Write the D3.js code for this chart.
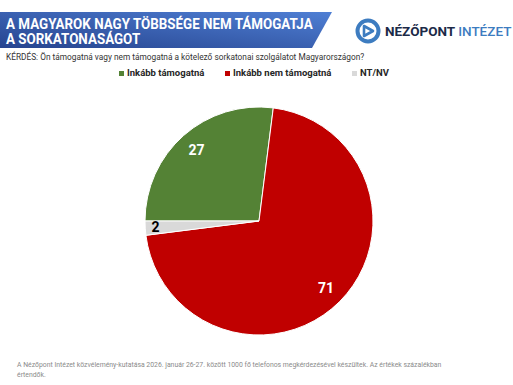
<!DOCTYPE html>
<html>
<head>
<meta charset="utf-8">
<script src="https://cdn.jsdelivr.net/npm/d3@7"></script>
<style>
  body { margin: 0; background: #fff; }
  svg { display: block; font-family: "Roboto", "Open Sans", sans-serif; }
</style>
</head>
<body>
<div id="chart"></div>
<script>
// Chart data
const categories = ["Inkább támogatná", "Inkább nem támogatná", "NT/NV"];
const values = [27, 71, 2];
const colors = ["#548235", "#C00000", "#D9D9D9"];
const labelColors = ["#ffffff", "#ffffff", "#000000"];

const titleLines = ["A MAGYAROK NAGY TÖBBSÉGE NEM TÁMOGATJA", "A SORKATONASÁGOT"];
const question = "KÉRDÉS: Ön támogatná vagy nem támogatná a kötelező sorkatonai szolgálatot Magyarországon?";
const footLines = [
  "A Nézőpont Intézet közvélemény-kutatása 2026. január 26-27. között 1000 fő telefonos megkérdezésével készültek. Az értékek százalékban",
  "értendők."
];

const width = 513, height = 385;

const svg = d3.select("#chart").append("svg")
    .attr("width", width)
    .attr("height", height);

//Gradient for the title banner
const defs = svg.append("defs");
const grad = defs.append("linearGradient")
    .attr("id", "bannerGrad")
    .attr("x1", "0%").attr("y1", "100%")
    .attr("x2", "100%").attr("y2", "0%");
grad.append("stop").attr("offset", "0%").attr("stop-color", "#26448f");
grad.append("stop").attr("offset", "100%").attr("stop-color", "#4f7fd4");

//Title banner (parallelogram shape on the right side)
svg.append("path")
    .attr("d", "M0,12 L332,12 L312,48 L0,48 Z")
    .attr("fill", "url(#bannerGrad)");

//Title text, squeezed horizontally so the first line fits the banner
const titleG = svg.append("g");
const titleTexts = titleG.selectAll("text")
    .data(titleLines)
    .enter().append("text")
    .attr("x", 0)
    .attr("y", (d, i) => 29 + i * 15.5)
    .attr("fill", "#fff")
    .attr("font-size", 15)
    .attr("font-weight", "bold")
    .text(d => d);
const firstW = titleTexts.node().getComputedTextLength();
const sx = Math.min(1, 307 / firstW);
titleG.attr("transform", "translate(6,0) scale(" + sx + ",1)");

//Logo
const logo = svg.append("g").attr("transform", "translate(368,31)");
logo.append("circle").attr("r", 10.5)
    .attr("fill", "none").attr("stroke", "#3d7cc0").attr("stroke-width", 4);
logo.append("path")
    .attr("d", "M-4,-5 L5,0 L-4,5 Z")
    .attr("fill", "none").attr("stroke", "#3d7cc0").attr("stroke-width", 2.6)
    .attr("stroke-linejoin", "round");

const logoText = svg.append("text")
    .attr("x", 385)
    .attr("y", 36)
    .attr("font-size", 13.5)
    .attr("font-weight", "bold");
logoText.append("tspan").attr("fill", "#1c2a48").text("NÉZŐPONT ");
logoText.append("tspan").attr("fill", "#3d7cc0").attr("font-weight", 500).text("INTÉZET");

//Question
svg.append("text")
    .attr("x", 6)
    .attr("y", 60)
    .attr("font-size", 8.3)
    .attr("fill", "#333")
    .text(question);

//Legend
const legendX = [119, 225, 352];
const legend = svg.append("g").selectAll("g")
    .data(categories)
    .enter().append("g")
    .attr("transform", (d, i) => "translate(" + legendX[i] + ",76)");
legend.append("rect")
    .attr("x", 0).attr("y", -5)
    .attr("width", 5).attr("height", 5)
    .attr("fill", (d, i) => colors[i]);
legend.append("text")
    .attr("x", 8)
    .attr("y", 0)
    .attr("font-size", 9.5)
    .attr("font-weight", "bold")
    .attr("fill", "#262626")
    .text(d => d);

//Pie
const cx = 259, cy = 221, radius = 114;
const pieData = d3.pie()
    .sort(null)
    .startAngle(-Math.PI / 2)
    .endAngle(1.5 * Math.PI)
    .value(d => d)(values);

const arc = d3.arc().innerRadius(0).outerRadius(radius);

const g = svg.append("g").attr("transform", "translate(" + cx + "," + cy + ")");
g.selectAll("path")
    .data(pieData)
    .enter().append("path")
    .attr("d", arc)
    .attr("fill", (d, i) => colors[i])
    .attr("stroke", "#fff")
    .attr("stroke-width", 1);

//Data labels
g.selectAll("text.lbl")
    .data(pieData)
    .enter().append("text")
    .attr("class", "lbl")
    .attr("transform", d => {
        const r = d.value < 5 ? radius * 0.91 : radius * 0.83;
        const la = d3.arc().innerRadius(r).outerRadius(r);
        return "translate(" + la.centroid(d) + ")";
    })
    .attr("text-anchor", "middle")
    .attr("dy", "0.35em")
    .attr("font-size", 14)
    .attr("font-weight", "bold")
    .attr("fill", (d, i) => labelColors[i])
    .text(d => d.value);

//Footnote
svg.append("g").selectAll("text")
    .data(footLines)
    .enter().append("text")
    .attr("x", 17)
    .attr("y", (d, i) => 367 + i * 10)
    .attr("font-size", 6.85)
    .attr("fill", "#8a8a8a")
    .text(d => d);
</script>
</body>
</html>
